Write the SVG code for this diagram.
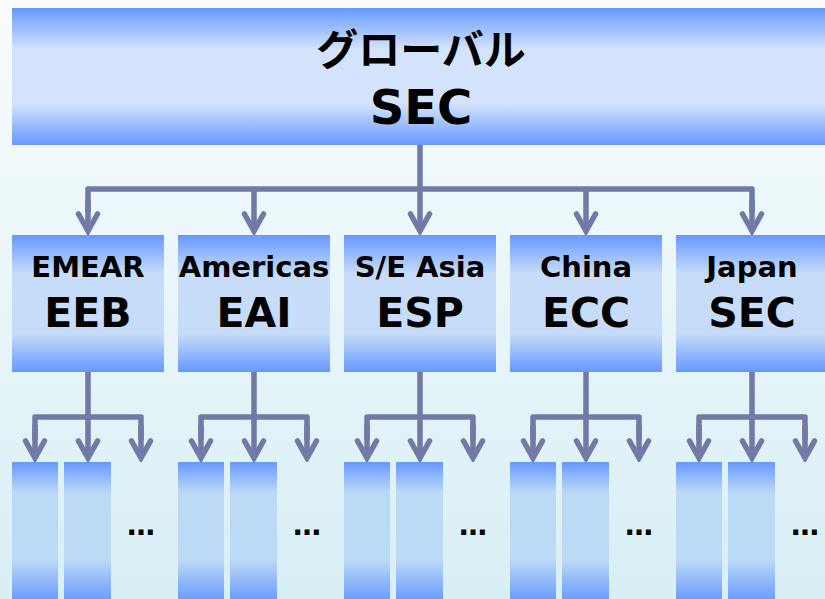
<svg xmlns="http://www.w3.org/2000/svg" width="825" height="599" viewBox="0 0 825 599">
<defs>
<linearGradient id="bg" x1="0" y1="0" x2="0" y2="1">
<stop offset="0" stop-color="#f8fcfe"/>
<stop offset="1" stop-color="#d8eff5"/>
</linearGradient>
<linearGradient id="gTop" x1="0" y1="0" x2="0" y2="1">
<stop offset="0" stop-color="#6699ff"/>
<stop offset="0.3" stop-color="#d3e3fc"/>
<stop offset="0.7" stop-color="#d3e3fc"/>
<stop offset="1" stop-color="#6699ff"/>
</linearGradient>
<linearGradient id="gMid" x1="0" y1="0" x2="0" y2="1">
<stop offset="0" stop-color="#6699ff"/>
<stop offset="0.28" stop-color="#c6dcf8"/>
<stop offset="0.72" stop-color="#c6dcf8"/>
<stop offset="1" stop-color="#6699ff"/>
</linearGradient>
<linearGradient id="gLow" x1="0" y1="0" x2="0" y2="1">
<stop offset="0" stop-color="#6699ff"/>
<stop offset="0.22" stop-color="#bcd9f6"/>
<stop offset="0.7" stop-color="#bcd9f6"/>
<stop offset="1" stop-color="#6699ff"/>
</linearGradient>
<marker id="arr" viewBox="-24 -14 28 28" markerWidth="28" markerHeight="28" refX="0" refY="0" orient="auto" markerUnits="userSpaceOnUse">
<polyline points="-17,-9.5 0,0 -17,9.5" fill="none" stroke="#7279a6" stroke-width="5.5" stroke-linecap="round" stroke-linejoin="miter"/>
</marker>
<style>
.conn{fill:none;stroke:#7279a6;stroke-width:5.5;stroke-linejoin:round;stroke-linecap:butt}
.ar{fill:none;stroke:#7279a6;stroke-width:5.5;marker-end:url(#arr)}
.t1{font-family:"DejaVu Sans",Verdana,sans-serif;font-weight:bold;font-size:29px;text-anchor:middle;fill:#000}
.t2{font-family:"DejaVu Sans",Verdana,sans-serif;font-weight:bold;font-size:41px;text-anchor:middle;fill:#000}
.top1{font-family:"Noto Sans CJK JP","Noto Sans",sans-serif;font-weight:bold;font-size:42px;text-anchor:middle;fill:#000}
.top2{font-family:"DejaVu Sans",Verdana,sans-serif;font-weight:bold;font-size:48px;text-anchor:middle;fill:#000}
.dots{font-family:"DejaVu Sans",sans-serif;font-weight:bold;font-size:28px;text-anchor:middle;fill:#000}
</style>
</defs>
<rect x="0" y="0" width="825" height="599" fill="url(#bg)"/>

<g id="connectors">
<path class="conn" d="M420,145 V189 M88,212 V189 H752 V212"/>
<line class="ar" x1="88" y1="200" x2="88" y2="231"/>
<line class="ar" x1="254" y1="189" x2="254" y2="231"/>
<line class="ar" x1="420" y1="189" x2="420" y2="231"/>
<line class="ar" x1="586" y1="189" x2="586" y2="231"/>
<line class="ar" x1="752" y1="200" x2="752" y2="231"/>

<path class="conn" d="M88,372 V417 M35,440 V417 H141 V440"/>
<line class="ar" x1="35" y1="425" x2="35" y2="458"/>
<line class="ar" x1="88" y1="417" x2="88" y2="458"/>
<line class="ar" x1="141" y1="425" x2="141" y2="458"/>

<path class="conn" d="M254,372 V417 M201,440 V417 H307 V440"/>
<line class="ar" x1="201" y1="425" x2="201" y2="458"/>
<line class="ar" x1="254" y1="417" x2="254" y2="458"/>
<line class="ar" x1="307" y1="425" x2="307" y2="458"/>

<path class="conn" d="M420,372 V417 M367,440 V417 H473 V440"/>
<line class="ar" x1="367" y1="425" x2="367" y2="458"/>
<line class="ar" x1="420" y1="417" x2="420" y2="458"/>
<line class="ar" x1="473" y1="425" x2="473" y2="458"/>

<path class="conn" d="M586,372 V417 M533,440 V417 H639 V440"/>
<line class="ar" x1="533" y1="425" x2="533" y2="458"/>
<line class="ar" x1="586" y1="417" x2="586" y2="458"/>
<line class="ar" x1="639" y1="425" x2="639" y2="458"/>

<path class="conn" d="M752,372 V417 M699,440 V417 H805 V440"/>
<line class="ar" x1="699" y1="425" x2="699" y2="458"/>
<line class="ar" x1="752" y1="417" x2="752" y2="458"/>
<line class="ar" x1="805" y1="425" x2="805" y2="458"/>
</g>

<g id="global-sec">
<rect x="12" y="8" width="813" height="137" fill="url(#gTop)"/>
<text class="top1" x="421" y="65">グローバル</text>
<text class="top2" x="421" y="124">SEC</text>
</g>

<g id="emear-eeb">
<rect x="12" y="235" width="152" height="137" fill="url(#gMid)"/>
<text class="t1" x="88" y="277">EMEAR</text>
<text class="t2" x="88" y="327">EEB</text>
</g>
<g id="americas-eai">
<rect x="178" y="235" width="152" height="137" fill="url(#gMid)"/>
<text class="t1" x="254" y="277">Americas</text>
<text class="t2" x="254" y="327">EAI</text>
</g>
<g id="se-asia-esp">
<rect x="344" y="235" width="152" height="137" fill="url(#gMid)"/>
<text class="t1" x="420" y="277">S/E Asia</text>
<text class="t2" x="420" y="327">ESP</text>
</g>
<g id="china-ecc">
<rect x="510" y="235" width="152" height="137" fill="url(#gMid)"/>
<text class="t1" x="586" y="277">China</text>
<text class="t2" x="586" y="327">ECC</text>
</g>
<g id="japan-sec">
<rect x="676" y="235" width="152" height="137" fill="url(#gMid)"/>
<text class="t1" x="752" y="277">Japan</text>
<text class="t2" x="752" y="327">SEC</text>
</g>

<g id="sub-emear">
<rect x="12" y="462" width="46" height="140" fill="url(#gLow)"/>
<rect x="64" y="462" width="47" height="140" fill="url(#gLow)"/>
<text class="dots" x="141" y="535">…</text>
</g>
<g id="sub-americas">
<rect x="178" y="462" width="46" height="140" fill="url(#gLow)"/>
<rect x="230" y="462" width="47" height="140" fill="url(#gLow)"/>
<text class="dots" x="307" y="535">…</text>
</g>
<g id="sub-se-asia">
<rect x="344" y="462" width="46" height="140" fill="url(#gLow)"/>
<rect x="396" y="462" width="47" height="140" fill="url(#gLow)"/>
<text class="dots" x="473" y="535">…</text>
</g>
<g id="sub-china">
<rect x="510" y="462" width="46" height="140" fill="url(#gLow)"/>
<rect x="562" y="462" width="47" height="140" fill="url(#gLow)"/>
<text class="dots" x="639" y="535">…</text>
</g>
<g id="sub-japan">
<rect x="676" y="462" width="46" height="140" fill="url(#gLow)"/>
<rect x="728" y="462" width="47" height="140" fill="url(#gLow)"/>
<text class="dots" x="805" y="535">…</text>
</g>
</svg>
